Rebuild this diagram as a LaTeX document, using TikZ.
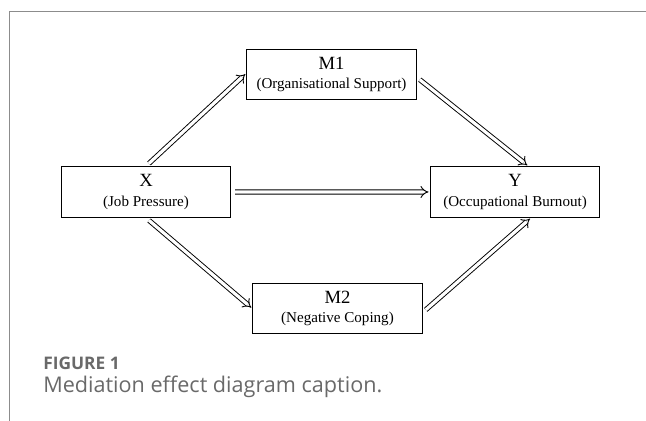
\documentclass[tikz,border=0pt]{standalone}
\usepackage{fontspec}
\setmainfont{Liberation Serif}
\newfontfamily\capfont{Open Sans}
\usepackage{xcolor}
\usetikzlibrary{arrows.meta,positioning}
\definecolor{framegray}{RGB}{140,140,140}
\definecolor{capgray}{RGB}{105,105,105}
\newcommand{\medlabel}[2]{{\fontsize{14}{15}\selectfont #1}\\[2.5pt]{\fontsize{11.3}{13}\selectfont #2}}
\tikzset{
  medbox/.style={draw,line width=0.75pt,align=center,inner sep=2pt,
    minimum width=127pt,minimum height=38pt},
  medflow/.style={-{Implies},line width=0.7pt,double=white,double distance=2.4pt,
    shorten >=1pt,shorten <=3pt},
}
\begin{document}
\begin{tikzpicture}[x=0.75pt,y=-0.75pt]
\useasboundingbox (0,0) rectangle (646,421);
% frame of the figure panel
\draw[framegray,line width=0.8pt] (9.5,421) -- (9.5,11.5) -- (646,11.5);
\node[medbox] (m1) at (331.5,74.5) {\medlabel{M1}{(Organisational Support)}};
\node[medbox] (x) at (146,192) {\medlabel{X}{(Job Pressure)}};
\node[medbox] (y) at (515,192) {\medlabel{Y}{(Occupational Burnout)}};
\node[medbox] (m2) at (337.5,308.5) {\medlabel{M2}{(Negative Coping)}};
\draw[medflow] (x.north) -- ([yshift=1pt]m1.west);
\draw[medflow] ([yshift=-2pt]m1.east) -- ([xshift=10pt]y.north);
\draw[medflow] (x.east) -- ([yshift=0.01pt]y.west);
\draw[medflow] (x.south) -- (m2.west);
\draw[medflow] ([yshift=-3pt]m2.east) -- ([xshift=12pt]y.south);
\node[text=capgray,anchor=base west,inner sep=0pt,font=\capfont\fontsize{13}{14}\selectfont\bfseries]
  (fig) at (43,369) {FIGURE 1};
\node[text=capgray,anchor=base west,inner sep=0pt,font=\capfont\fontsize{16.2}{18}\selectfont]
  (cap) at (43,392) {Mediation effect diagram caption.};
\end{tikzpicture}
\end{document}
